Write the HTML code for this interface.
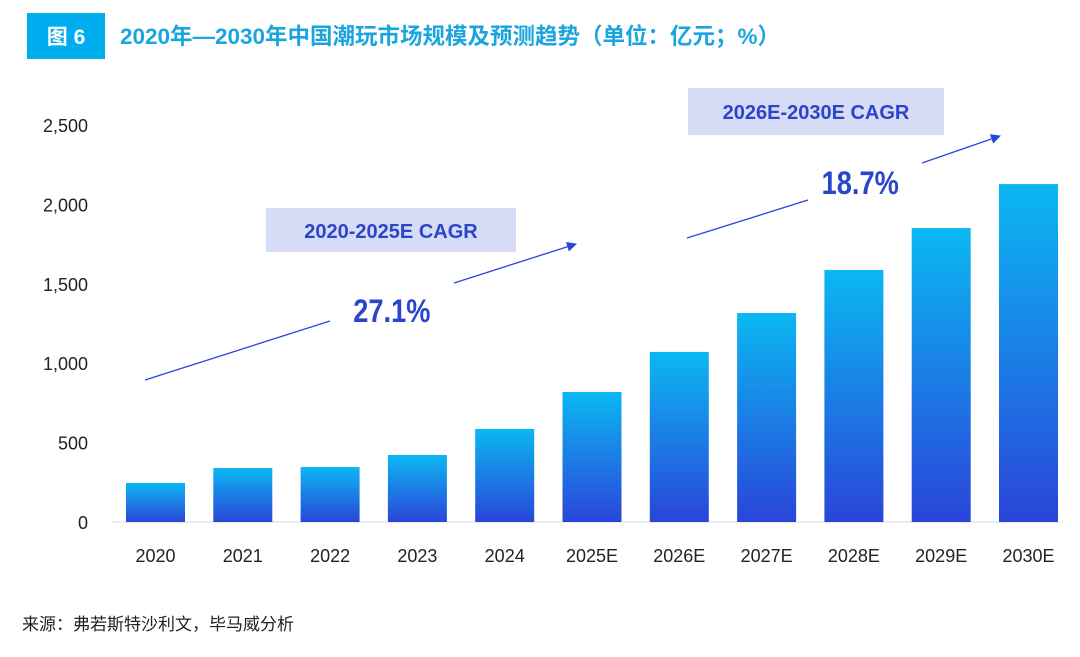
<!DOCTYPE html>
<html><head><meta charset="utf-8"><style>
body{margin:0;background:#fff;width:1080px;height:652px;overflow:hidden;font-family:"Liberation Sans","Noto Sans CJK SC",sans-serif}
</style></head><body>
<svg width="1080" height="652" xmlns="http://www.w3.org/2000/svg">
<defs>
<linearGradient id="bg" x1="0" y1="0" x2="0" y2="1">
<stop offset="0" stop-color="#0bb8f2"/><stop offset="1" stop-color="#2a45d9"/></linearGradient>
<marker id="ah" markerWidth="10" markerHeight="10" refX="9" refY="5" orient="auto" markerUnits="userSpaceOnUse">
<path d="M0,0 L10,5 L0,10 Z" fill="#2a45d9"/></marker>
</defs>
<rect x="27" y="13" width="78" height="46" fill="#00aeef"/>
<text x="66" y="44" fill="#fff" font-size="21" font-weight="bold" text-anchor="middle" font-family="'Liberation Sans','Noto Sans CJK SC',sans-serif">图 6</text>
<text x="120" y="44" fill="#1aa5de" font-size="22.5" font-weight="bold" textLength="660" font-family="'Liberation Sans','Noto Sans CJK SC',sans-serif">2020年—2030年中国潮玩市场规模及预测趋势（单位：亿元；%）</text>
<g id="yaxis"></g>
<line x1="112" y1="522" x2="1060" y2="522" stroke="#e3e6ec" stroke-width="1.5"/>
<g id="bars"></g>
<g id="xaxis"></g>
<rect x="266" y="208" width="250" height="44" fill="#d6dcf5"/>
<text x="391" y="238" fill="#2a45c9" font-size="20" font-weight="bold" text-anchor="middle">2020-2025E CAGR</text>
<rect x="688" y="88" width="256" height="47" fill="#d6dcf5"/>
<text x="816" y="119" fill="#2a45c9" font-size="20" font-weight="bold" text-anchor="middle">2026E-2030E CAGR</text>
<line x1="145" y1="380" x2="330" y2="321" stroke="#2a45d9" stroke-width="1.3"/>
<line x1="454" y1="283" x2="576" y2="244" stroke="#2a45d9" stroke-width="1.3" marker-end="url(#ah)"/>
<line x1="687" y1="238" x2="808" y2="200" stroke="#2a45d9" stroke-width="1.3"/>
<line x1="922" y1="163" x2="1000" y2="136" stroke="#2a45d9" stroke-width="1.3" marker-end="url(#ah)"/>
<text x="392" y="322" fill="#2a45c9" font-size="32" font-weight="bold" text-anchor="middle" transform="scale(0.85,1) translate(69,0)">27.1%</text>
<text x="860" y="194" fill="#2a45c9" font-size="32" font-weight="bold" text-anchor="middle" transform="scale(0.85,1) translate(152,0)">18.7%</text>
<text x="22" y="630" fill="#222" font-size="17" font-family="'Liberation Sans','Noto Sans CJK SC',sans-serif">来源：弗若斯特沙利文，毕马威分析</text>
</svg>
<script>
const categories=["2020","2021","2022","2023","2024","2025E","2026E","2027E","2028E","2029E","2030E"];
const values=[246,340,346,422,586,819,1071,1316,1587,1851,2128];
const yTicks=[0,500,1000,1500,2000,2500];
const yTickLabels=["0","500","1,000","1,500","2,000","2,500"];
const NS="http://www.w3.org/2000/svg";
function y(v){return 522-v*(397/2500);}
function xc(i){return 155.5+i*87.3;}
const bw=59;
const bars=document.getElementById('bars'),xa=document.getElementById('xaxis'),ya=document.getElementById('yaxis');
yTicks.forEach((t,i)=>{const e=document.createElementNS(NS,'text');
e.setAttribute('x',88);e.setAttribute('y',y(t)+7);e.setAttribute('text-anchor','end');e.setAttribute('font-size','18');e.setAttribute('fill','#222');
e.textContent=yTickLabels[i];


ya.appendChild(e);});
categories.forEach((c,i)=>{const r=document.createElementNS(NS,'rect');
r.setAttribute('x',xc(i)-bw/2);r.setAttribute('y',y(values[i]));r.setAttribute('width',bw);r.setAttribute('height',522-y(values[i]));r.setAttribute('fill','url(#bg)');


bars.appendChild(r);
const t=document.createElementNS(NS,'text');
t.setAttribute('x',xc(i));t.setAttribute('y',562);t.setAttribute('text-anchor','middle');t.setAttribute('font-size','18');t.setAttribute('fill','#222');
t.textContent=c;


xa.appendChild(t);});
</script>
</body></html>
